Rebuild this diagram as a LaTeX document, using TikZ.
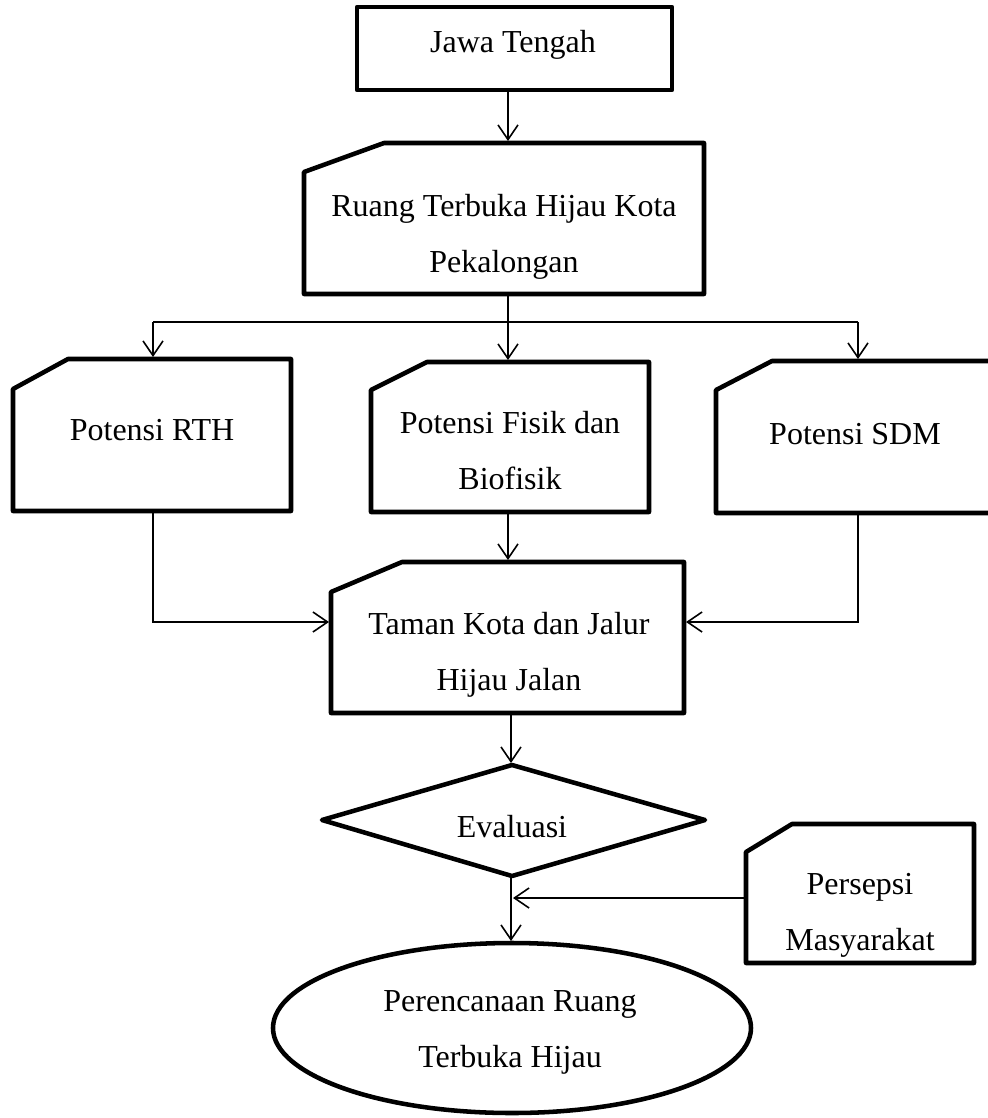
\documentclass[tikz,border=0pt]{standalone}
\usepackage{fontspec}
\setmainfont{Liberation Serif}
\usetikzlibrary{arrows.meta}
\begin{document}
\begin{tikzpicture}[x=0.75pt,y=-0.75pt,
  boxline/.style={line width=3.4pt, line join=round},
  conn/.style={line width=1.2pt},
  arr/.style={conn,-{Straight Barb[length=11pt,width=15pt]}},
  lbl/.style={font=\fontsize{24}{41.5}\selectfont, align=center, inner sep=0pt, anchor=base}]
\useasboundingbox (0,0) rectangle (988,1118);
\clip (0,0) rectangle (988,1118);

% shapes
\draw[boxline] (357,7) rectangle (672,90);
\draw[boxline] (304,172) -- (384,143) -- (704,143) -- (704,294) -- (304,294) -- cycle;
\draw[boxline] (13,389) -- (68,359) -- (291,359) -- (291,511) -- (13,511) -- cycle;
\draw[boxline] (371,390) -- (427,362) -- (649,362) -- (649,512) -- (371,512) -- cycle;
\draw[boxline] (716,390) -- (772,361) -- (1010,361) -- (1010,513) -- (716,513) -- cycle;
\draw[boxline] (331,592) -- (402,562) -- (684,562) -- (684,713) -- (331,713) -- cycle;
\draw[boxline] (512,765) -- (705,820) -- (512,876) -- (322,820) -- cycle;
\draw[boxline] (746,852) -- (792,824) -- (974,824) -- (974,963) -- (746,963) -- cycle;
\draw[boxline] (512,1028) ellipse [x radius=239, y radius=85];

% labels (anchor base = baseline of the last line)
\node[lbl] (jawa) at (513,52) {Jawa Tengah};
\node[lbl] (ruang) at (504,272) {Ruang Terbuka Hijau Kota\\Pekalongan};
\node[lbl] (rth) at (152,440) {Potensi RTH};
\node[lbl] (fisik) at (510,489) {Potensi Fisik dan\\Biofisik};
\node[lbl] (sdm) at (855,444) {Potensi SDM};
\node[lbl] (taman) at (509,690) {Taman Kota dan Jalur\\Hijau Jalan};
\node[lbl] (eval) at (512,837) {Evaluasi};
\node[lbl] (pers) at (860,950) {Persepsi\\Masyarakat};
\node[lbl] (plan) at (510,1067) {Perencanaan Ruang\\Terbuka Hijau};

% connection points
\coordinate (jawaS) at (508,91);
\coordinate (ruangN) at (508,141);
\coordinate (ruangS) at (508,296);
\coordinate (fisikN) at (508,360);
\coordinate (splitW) at (153,322);
\coordinate (splitE) at (858,322);
\coordinate (rthN) at (153,357);
\coordinate (sdmN) at (858,359);
\coordinate (fisikS) at (508,514);
\coordinate (tamanN) at (508,560);
\coordinate (rthS) at (153,513);
\coordinate (tamanW) at (329,622);
\coordinate (sdmS) at (858,515);
\coordinate (tamanE) at (686,622);
\coordinate (tamanS) at (511,715);
\coordinate (evalN) at (511,763);
\coordinate (evalS) at (511,878);
\coordinate (planN) at (511,941);
\coordinate (persW) at (744,898);
\coordinate (merge) at (513,898);

% connectors
\draw[arr] (jawaS) -- (ruangN);
\draw[arr] (ruangS) -- (fisikN);
\draw[conn] (splitW) -- (splitE);
\draw[arr] (splitW) -- (rthN);
\draw[arr] (splitE) -- (sdmN);
\draw[arr] (fisikS) -- (tamanN);
\draw[arr] (rthS) |- (tamanW);
\draw[arr] (sdmS) |- (tamanE);
\draw[arr] (tamanS) -- (evalN);
\draw[arr] (evalS) -- (planN);
\draw[arr] (persW) -- (merge);
\end{tikzpicture}
\end{document}
